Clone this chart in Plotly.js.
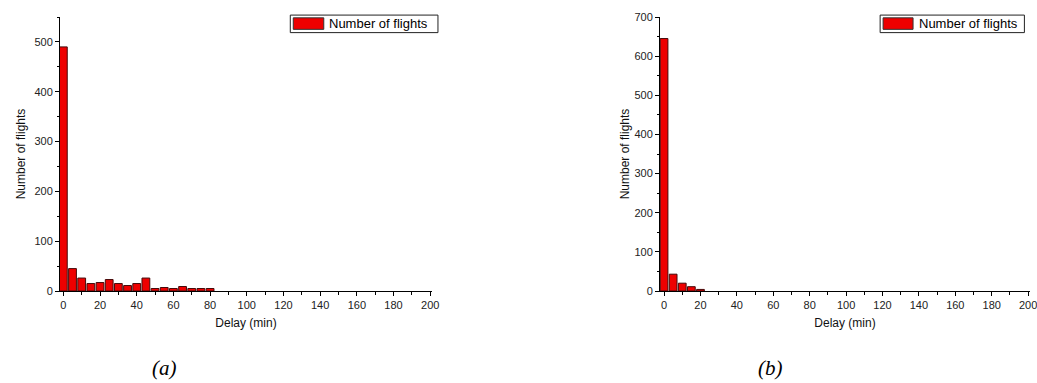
<!DOCTYPE html>
<html>
<head>
<meta charset="utf-8">
<script src="https://cdn.plot.ly/plotly-3.0.1.min.js"></script>
<style>
  html, body { margin: 0; padding: 0; background: #fff; }
  #chart { width: 1037px; height: 383px; }
</style>
</head>
<body>
<div id="chart"></div>
<script>
// Delay histograms: flights counted per 5-minute delay bin
const delayBinsA = [0, 5, 10, 15, 20, 25, 30, 35, 40, 45, 50, 55, 60, 65, 70, 75, 80];
const flightsA   = [490, 45, 26, 15, 17, 23, 15, 11, 15, 26, 5, 7, 5, 9, 5, 5, 5];

const delayBinsB = [0, 5, 10, 15, 20];
const flightsB   = [645, 43, 20, 11, 4];

const seriesName = 'Number of flights';
const xTitle = 'Delay (min)';
const yTitle = 'Number of flights';
const panelLabels = ['(a)', '(b)'];

const barFill = 'rgb(238,0,0)';
const barEdge = 'rgb(70,10,10)';
const tickFont = { family: 'Arial, Liberation Sans, sans-serif', size: 11, color: '#222' };
const titleFont = { family: 'Arial, Liberation Sans, sans-serif', size: 12, color: '#111' };

function barTrace(x, y, xa, ya) {
  return {
    type: 'bar', x: x, y: y, xaxis: xa, yaxis: ya,
    name: seriesName, showlegend: false,
    marker: { color: barFill, line: { color: barEdge, width: 1 } },
    hoverinfo: 'x+y'
  };
}

function xAxis(domain, range, anchor) {
  return {
    domain: domain, range: range, anchor: anchor,
    showgrid: false, zeroline: false,
    showline: true, linecolor: '#000', linewidth: 1,
    ticks: 'outside', ticklen: 4, tickwidth: 1, tickcolor: '#000',
    tick0: 0, dtick: 20,
    minor: { dtick: 10, ticks: 'outside', ticklen: 3, tickcolor: '#000', showgrid: false },
    tickfont: tickFont,
    ticklabeloverflow: 'allow',
    title: { text: xTitle, font: titleFont, standoff: 8 }
  };
}

function yAxis(domain, range, anchor, standoff) {
  return {
    domain: domain, range: range, anchor: anchor,
    showgrid: false, zeroline: false,
    showline: true, linecolor: '#000', linewidth: 1,
    ticks: 'outside', ticklen: 4, tickwidth: 1, tickcolor: '#000',
    tick0: 0, dtick: 100,
    minor: { dtick: 50, ticks: 'outside', ticklen: 2, tickcolor: '#000', showgrid: false },
    tickfont: tickFont,
    title: { text: yTitle, font: titleFont, standoff: standoff }
  };
}

// Boxed legend with a wide swatch, placed in each plot's domain
function legendParts(xa, x0, x1, sw1) {
  const xr = xa + ' domain';
  const yr = (xa === 'x' ? 'y' : 'y2') + ' domain';
  const shapes = [
    { type: 'rect', xref: xr, yref: yr, x0: x0, x1: x1, y0: 0.943, y1: 1.007,
      line: { color: '#222', width: 1 }, fillcolor: '#fff' },
    { type: 'rect', xref: xr, yref: yr, x0: x0 + 0.008, x1: sw1, y0: 0.955, y1: 0.997,
      line: { color: '#333', width: 1 }, fillcolor: barFill }
  ];
  const ann = {
    xref: xr, yref: yr, x: sw1 + 0.01, y: 0.975, xanchor: 'left', yanchor: 'middle',
    text: seriesName, showarrow: false,
    font: { family: 'Arial, Liberation Sans, sans-serif', size: 13, color: '#000' }
  };
  return { shapes: shapes, ann: ann };
}

const legA = legendParts('x', 0.619, 1.016, 0.709);
const legB = legendParts('x2', 0.595, 0.985, 0.684);

const caption = (text, x) => ({
  xref: 'paper', yref: 'paper', x: x, y: 0.04, xanchor: 'center', yanchor: 'middle',
  text: '<i>' + text + '</i>', showarrow: false,
  font: { family: 'Times New Roman, Liberation Serif, serif', size: 21, color: '#000' }
});

const data = [
  barTrace(delayBinsA, flightsA, 'x', 'y'),
  barTrace(delayBinsB, flightsB, 'x2', 'y2')
];

const layout = {
  width: 1037, height: 383,
  margin: { l: 0, r: 0, t: 0, b: 0 },
  paper_bgcolor: '#fff', plot_bgcolor: '#fff',
  bargap: 0.15,
  showlegend: false,
  xaxis: xAxis([0.0579, 0.4166], [-1.8, 201], 'y'),
  yaxis: yAxis([0.2402, 0.9556], [0, 550], 'x', 6),
  xaxis2: xAxis([0.6365, 0.9932], [-2.2, 201], 'y2'),
  yaxis2: yAxis([0.2402, 0.9556], [0, 700], 'x2', 2),
  shapes: legA.shapes.concat(legB.shapes),
  annotations: [legA.ann, legB.ann, caption(panelLabels[0], 0.159), caption(panelLabels[1], 0.743)]
};

Plotly.newPlot('chart', data, layout, { staticPlot: true, displayModeBar: false });
</script>
</body>
</html>
